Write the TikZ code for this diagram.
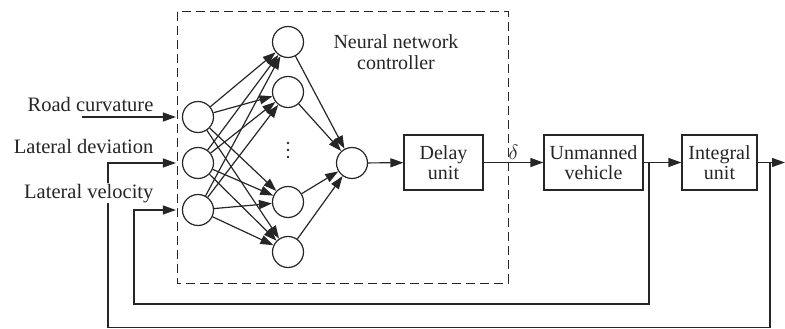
\documentclass[tikz,border=0pt]{standalone}
\usepackage{fontspec}
\setmainfont{Liberation Serif}
\usetikzlibrary{arrows.meta}
\begin{document}
\begin{tikzpicture}[x=1pt,y=-1pt,
  line width=1.2pt, color=black!85,
  tip/.style={-{Triangle[length=13pt,width=9pt]}},
  neuron/.style={circle,draw,minimum size=31pt,inner sep=0pt},
  blockbox/.style={draw,rectangle,minimum height=55pt,inner sep=0pt,align=center,font=\rmfamily\fontsize{20}{20.5}\selectfont},
  lbl/.style={font=\rmfamily\fontsize{20.5}{22}\selectfont,inner sep=1pt,anchor=base east,fill=white}]
\useasboundingbox (0,0) rectangle (785,329);
% dashed controller box
\draw[line width=1pt,dash pattern=on 9pt off 5pt] (177,12) rectangle (508,283);
\node[align=center,font=\rmfamily\fontsize{20}{21}\selectfont] (title) at (396,52) {Neural network\\controller};
% neurons
\node[neuron] (i1) at (198,117) {};
\node[neuron] (i2) at (198,163) {};
\node[neuron] (i3) at (198,210) {};
\node[neuron] (h1) at (288,42) {};
\node[neuron] (h2) at (288,92) {};
\node[neuron] (h3) at (288,202) {};
\node[neuron] (h4) at (288,252) {};
\node[neuron] (o) at (352,163) {};
\foreach \yy in {143,150,157}{\fill (288,\yy) circle (1.4);}
\foreach \a in {i1,i2,i3}{
  \foreach \b in {h1,h2,h3,h4}{
    \draw[tip] (\a) -- (\b);
  }
}
\foreach \b in {h1,h2,h3,h4}{\draw[tip] (\b) -- (o);}
% blocks
\node[blockbox,minimum width=79pt] (delay) at (443.5,162.5) {Delay\\unit};
\node[blockbox,minimum width=99pt] (veh) at (593.5,162.5) {Unmanned\\vehicle};
\node[blockbox,minimum width=75pt] (int) at (719.5,162.5) {Integral\\unit};
\draw[tip] (o) -- (delay);
\draw[tip] (delay) -- node[pos=0.5,above,inner sep=2pt,font=\fontsize{20}{20}\selectfont] (dl) {$\delta$} (veh);
\draw[tip] (veh) -- (int);
\coordinate (b1) at (649,162.5);
\coordinate (b2) at (770,162.5);
\coordinate (outend) at (785,162.5);
\draw[tip] (int) -- (outend);
% feedback lines
\draw[tip,shorten >=6pt] (b2) -- (770,327.5) -- (108,327.5) -- (108,163) -- (i2.west);
\draw[tip,shorten >=6pt] (b1) -- (649,304) -- (134,304) -- (134,210) -- (i3.west);
% inputs
\coordinate (rc) at (82,117);
\draw[tip,shorten >=6pt] (rc) -- (i1.west);
\node[lbl] (t1) at (155,111) {Road curvature};
\node[lbl] (t2) at (155,153) {Lateral deviation};
\node[lbl] (t3) at (155,198) {Lateral velocity};
\end{tikzpicture}
\end{document}
